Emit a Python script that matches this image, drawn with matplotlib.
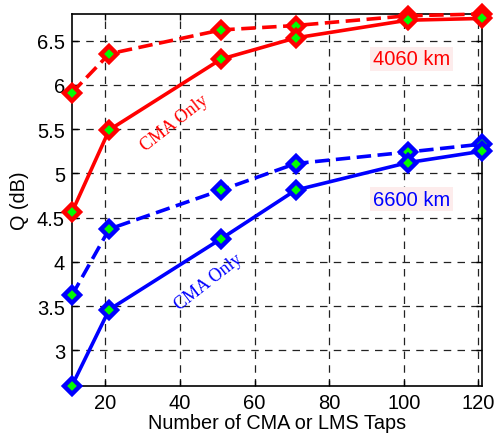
import matplotlib
matplotlib.use("Agg")
import matplotlib.pyplot as plt

taps = [11, 21, 51, 71, 101, 121]
q_4060_lms = [5.91, 6.35, 6.62, 6.67, 6.78, 6.80]
q_4060_cma = [4.56, 5.49, 6.29, 6.53, 6.73, 6.75]
q_6600_lms = [3.62, 4.37, 4.81, 5.11, 5.24, 5.33]
q_6600_cma = [2.60, 3.46, 4.26, 4.81, 5.12, 5.25]
xticks = [20, 40, 60, 80, 100, 120]
yticks = [3, 3.5, 4, 4.5, 5, 5.5, 6, 6.5]
ytick_labels = ["3", "3.5", "4", "4.5", "5", "5.5", "6", "6.5"]

plt.rcParams['font.family'] = ['Liberation Sans', 'DejaVu Sans']

fig = plt.figure(figsize=(4.96, 4.35), dpi=100)
ax = fig.add_axes([0.145, 0.111, 0.827, 0.8545])

mk = dict(marker='D', markersize=8, markerfacecolor='#00ff00', markeredgewidth=3.2, lw=2.6, clip_on=False)
ax.plot(taps, q_4060_lms, '--', color='#ff0000', markeredgecolor='#ff0000', dashes=(4, 1.8), zorder=3, **mk)
ax.plot(taps, q_4060_cma, '-', color='#ff0000', markeredgecolor='#ff0000', zorder=3, **mk)
ax.plot(taps, q_6600_lms, '--', color='#0000ff', markeredgecolor='#0000ff', dashes=(4, 1.8), zorder=3, **mk)
ax.plot(taps, q_6600_cma, '-', color='#0000ff', markeredgecolor='#0000ff', zorder=3, **mk)

ax.set_xlim(11, 121)
ax.set_ylim(2.6, 6.8)
ax.set_xticks(xticks)
ax.set_yticks(yticks)
ax.set_yticklabels(ytick_labels)
ax.tick_params(direction='in', top=True, right=True, labelsize=14.5, length=4, width=1, pad=5)
ax.grid(True, color='#222222', linestyle=(0, (6, 5)), linewidth=0.9, zorder=1)
for s in ax.spines.values():
    s.set_linewidth(1.2)

ax.set_xlabel("Number of CMA or LMS Taps", fontsize=14.3, labelpad=1)
ax.set_ylabel("Q (dB)", fontsize=14.3, labelpad=6)

ax.text(0.827, 0.879, "4060 km", transform=ax.transAxes, color='#ff0000', fontsize=14.5,
        ha='center', va='center', bbox=dict(facecolor='#fdecec', edgecolor='none', pad=2))
ax.text(0.827, 0.502, "6600 km", transform=ax.transAxes, color='#0000ff', fontsize=14.5,
        ha='center', va='center', bbox=dict(facecolor='#fdecec', edgecolor='none', pad=2))
ax.text(0.251, 0.709, "CMA Only", transform=ax.transAxes, color='#ff0000', fontsize=13,
        family=['Liberation Serif', 'DejaVu Serif'], rotation=38, ha='center', va='center')
ax.text(0.332, 0.279, "CMA Only", transform=ax.transAxes, color='#0000ff', fontsize=13,
        family=['Liberation Serif', 'DejaVu Serif'], rotation=38, ha='center', va='center')

fig.savefig("out.png", dpi=100)
